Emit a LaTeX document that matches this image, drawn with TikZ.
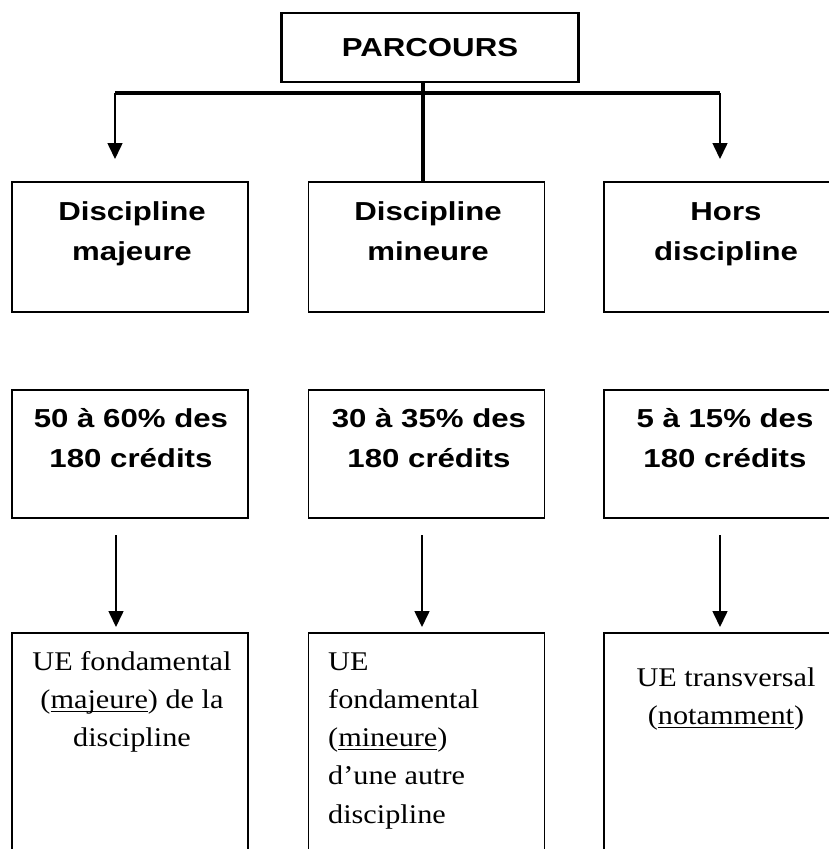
\documentclass[tikz,border=0pt]{standalone}
\usepackage{fontspec}
\setmainfont{Liberation Serif}[FakeStretch=1.12]
\newfontfamily\boxfont{Liberation Sans}[FakeStretch=1.2]
\newsavebox\ulbox
\newcommand{\ulword}[1]{\sbox\ulbox{#1}\rlap{\rule[-3.5pt]{\wd\ulbox}{1.1pt}}\usebox\ulbox}
\usetikzlibrary{arrows.meta}

\begin{document}
\begin{tikzpicture}[x=1pt,y=-1pt,
  box/.style={draw,line width=1.6pt,minimum width=236pt,inner sep=0pt},
  head/.style={font=\boxfont\bfseries\fontsize{26}{40}\selectfont,align=center,inner sep=0pt,anchor=base},
  body/.style={font=\fontsize{27}{38.3}\selectfont,inner sep=0pt,anchor=base},
  bus/.style={line width=4.5pt},
  down/.style={line width=1.6pt,-{Triangle[length=16pt,width=15pt]}}]
\useasboundingbox[fill=white] (0,0) rectangle (829,849);
% top
\node[draw,line width=2.5pt,minimum width=297pt,minimum height=69pt,inner sep=0pt,
  font=\boxfont\bfseries\fontsize{26}{40}\selectfont] (parcours) at (430,47.5) {PARCOURS};
\coordinate (busL) at (115,93);
\coordinate (busR) at (720,93);
\coordinate (stem) at (423,93);
\coordinate (tipL) at (115,159);
\coordinate (tipR) at (720,159);
% first row
\node[box,minimum height=130pt] (major) at (130,247) {};
\node[box,minimum height=130pt] (minor) at (426.5,247) {};
\node[box,minimum height=130pt] (hors) at (722,247) {};
\node[head] (majorlbl) at (132,260) {Discipline\\majeure};
\node[head] (minorlbl) at (428,260) {Discipline\\mineure};
\node[head] (horslbl) at (726,260) {Hors\\discipline};
\draw[bus] (busL) -- (busR);
\draw[bus] (parcours.south -| stem) -- (minor.north -| stem);
\draw[down] (busL) -- (tipL);
\draw[down] (busR) -- (tipR);
% second row
\node[box,minimum height=128pt] (majorbox) at (130,454) {};
\node[box,minimum height=128pt] (minorbox) at (426.5,454) {};
\node[box,minimum height=128pt] (horsbox) at (722,454) {};
\node[head] (majorpct) at (131,467) {50 à 60\% des\\180 crédits};
\node[head] (minorpct) at (429,467) {30 à 35\% des\\180 crédits};
\node[head] (horspct) at (725,467) {5 à 15\% des\\180 crédits};
\coordinate (fromA) at (116,535);
\coordinate (fromB) at (422,535);
\coordinate (fromC) at (720,535);
\coordinate (toA) at (116,627);
\coordinate (toB) at (422,627);
\coordinate (toC) at (720,627);
\draw[down] (fromA) -- (toA);
\draw[down] (fromB) -- (toB);
\draw[down] (fromC) -- (toC);
% third row
\node[box,minimum height=240pt] (majorue) at (130,753) {};
\node[box,minimum height=240pt] (minorue) at (426.5,753) {};
\node[box,minimum height=240pt] (horsue) at (722,753) {};
\node[body,align=center] (majortxt) at (132,746.6) {UE fondamental\\(\ulword{majeure}) de la\\discipline};
\node[body,align=left,anchor=base west] (minortxt) at (328,823.2) {UE\\fondamental\\(\ulword{mineure})\\d’une autre\\discipline};
\node[body,align=center] (horstxt) at (726,724.3) {UE transversal\\(\ulword{notamment})};
\end{tikzpicture}
\end{document}
